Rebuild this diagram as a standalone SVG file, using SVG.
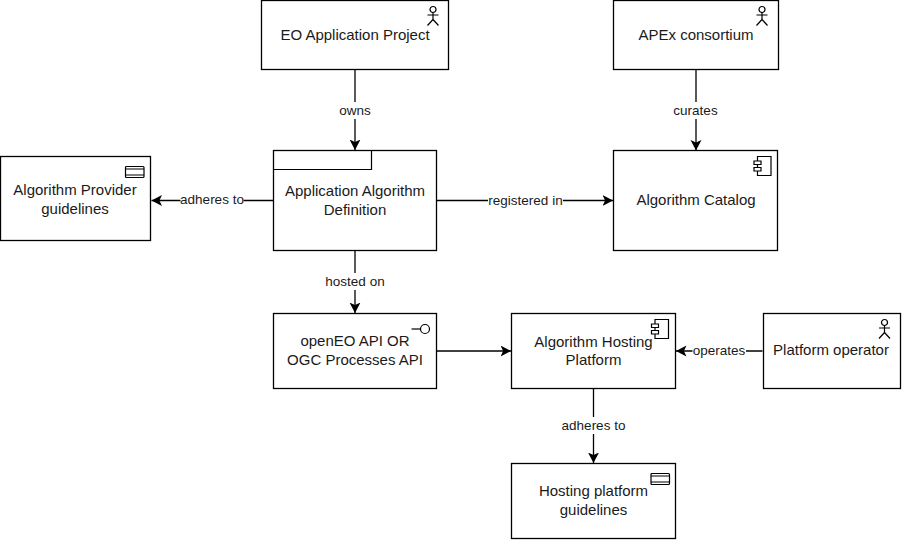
<svg xmlns="http://www.w3.org/2000/svg" width="902" height="540" viewBox="0 0 902 540">
<defs>
<style>
.box{fill:#fff;stroke:#000;stroke-width:1.3}
.ic{fill:none;stroke:#000;stroke-width:1.2}
.c{fill:none;stroke:#000;stroke-width:1.3}
text{font-family:"Liberation Sans",Arial,sans-serif;fill:#1a1a1a;text-anchor:middle}
.t{font-size:15px}
.l{font-size:13.500px}
.bg{fill:#fff}
</style>
<marker id="a" markerUnits="userSpaceOnUse" markerWidth="12" markerHeight="12" refX="10.5" refY="5.5" orient="auto"><path d="M0 0L10.500 5.500L0 11L2.600 5.500Z" fill="#000"/></marker>
<symbol id="actor" overflow="visible"><circle cx="6" cy="3" r="3" class="ic"/><path class="ic" d="M6 6V13M0.500 8.500H11.500M6 13L0.500 19M6 13L11.500 19"/></symbol>
<symbol id="comp" overflow="visible"><path class="ic" d="M4 0H17.500V19H4Z"/><path d="M0.500 4.500H7.500V8H0.500ZM0.500 11H7.500V14.500H0.500Z" fill="#fff" stroke="#000" stroke-width="1.200"/></symbol>
<symbol id="req" overflow="visible"><rect x="0.500" y="0.500" width="18.500" height="11" rx="1" class="ic"/><path class="ic" d="M0.500 3H19M0.500 9H19"/></symbol>
</defs>
<g id="connectors">
<path class="c" d="M355 70V150" marker-end="url(#a)"/>
<path class="c" d="M696 70V150.500" marker-end="url(#a)"/>
<path class="c" d="M273.500 200.500H151.500" marker-end="url(#a)"/>
<path class="c" d="M436.500 200.500H613" marker-end="url(#a)"/>
<path class="c" d="M355 250.500V313" marker-end="url(#a)"/>
<path class="c" d="M436.500 351H511" marker-end="url(#a)"/>
<path class="c" d="M762.500 351H676" marker-end="url(#a)"/>
<path class="c" d="M593.500 388.500V463" marker-end="url(#a)"/>
<rect class="bg" x="339" y="102" width="33" height="17"/><text class="l" x="355" y="115">owns</text>
<rect class="bg" x="673" y="102" width="46" height="17"/><text class="l" x="695.500" y="115">curates</text>
<rect class="bg" x="180.500" y="191" width="63" height="17"/><text class="l" x="212" y="204">adheres to</text>
<rect class="bg" x="488" y="192" width="75" height="17"/><text class="l" x="525.500" y="205">registered in</text>
<rect class="bg" x="325" y="273" width="60" height="17"/><text class="l" x="355" y="286">hosted on</text>
<rect class="bg" x="692.500" y="342" width="53.500" height="17"/><text class="l" x="719" y="355">operates</text>
<rect class="bg" x="562" y="417" width="63" height="17"/><text class="l" x="593.500" y="430">adheres to</text>
</g>
<g id="eo-project"><rect class="box" x="261.500" y="0.500" width="187" height="69"/><use href="#actor" x="427" y="6.500"/><text class="t" x="355" y="40">EO Application Project</text></g>
<g id="apex"><rect class="box" x="613.500" y="0.500" width="165" height="69"/><use href="#actor" x="756" y="6.500"/><text class="t" x="696" y="40">APEx consortium</text></g>
<g id="provider-guidelines"><rect class="box" x="0.500" y="156.500" width="150" height="84"/><use href="#req" x="125" y="166"/><text class="t" x="75" y="195">Algorithm Provider</text><text class="t" x="75" y="214">guidelines</text></g>
<g id="definition"><rect class="box" x="273.500" y="150.500" width="163" height="100"/><path class="ic" d="M273.500 169.500H371.500V150.500"/><text class="t" x="355" y="196">Application Algorithm</text><text class="t" x="355" y="215">Definition</text></g>
<g id="catalog"><rect class="box" x="613.500" y="150.500" width="164" height="100"/><use href="#comp" x="753.500" y="156.500"/><text class="t" x="696" y="205">Algorithm Catalog</text></g>
<g id="api"><rect class="box" x="273.500" y="313.500" width="163" height="75"/><path class="ic" d="M411.500 329H420"/><circle class="ic" cx="425" cy="329" r="4.500"/><text class="t" x="355" y="346">openEO API OR</text><text class="t" x="355" y="365">OGC Processes API</text></g>
<g id="hosting"><rect class="box" x="511.500" y="313.500" width="164" height="75"/><text class="t" x="593.500" y="347">Algorithm Hosting</text><text class="t" x="593.500" y="365">Platform</text><use href="#comp" x="651" y="319.500"/></g>
<g id="operator"><rect class="box" x="763.500" y="313.500" width="137" height="75"/><use href="#actor" x="878.500" y="319.500"/><text class="t" x="831" y="355">Platform operator</text></g>
<g id="hosting-guidelines"><rect class="box" x="511.500" y="463.500" width="164" height="75"/><use href="#req" x="650.500" y="473"/><text class="t" x="593.500" y="496">Hosting platform</text><text class="t" x="593.500" y="515">guidelines</text></g>
</svg>
